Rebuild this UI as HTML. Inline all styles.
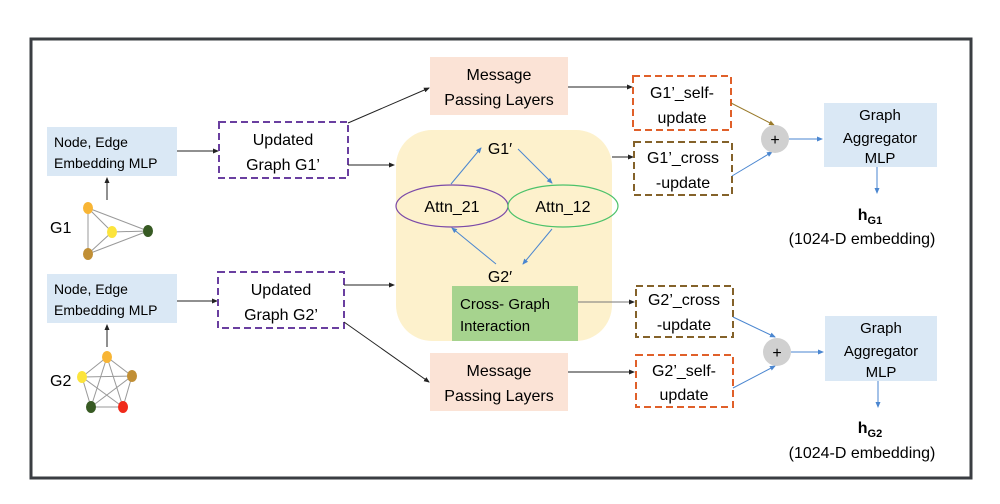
<!DOCTYPE html>
<html><head><meta charset="utf-8"><style>
body{margin:0;background:#fff;}
svg{display:block;font-family:"Liberation Sans",sans-serif;}
</style></head><body>
<svg width="1000" height="504" viewBox="0 0 1000 504" xmlns="http://www.w3.org/2000/svg">
<defs>
<marker id="ak" markerWidth="6" markerHeight="6" refX="5" refY="3" orient="auto"><path d="M0,0.5L6,3L0,5.5Z" fill="#222"/></marker>
<marker id="ab" markerWidth="6" markerHeight="6" refX="5" refY="3" orient="auto"><path d="M0,0.5L6,3L0,5.5Z" fill="#4a86d0"/></marker>
<marker id="ao" markerWidth="6" markerHeight="6" refX="5" refY="3" orient="auto"><path d="M0,0.5L6,3L0,5.5Z" fill="#9a7a2a"/></marker>
</defs>
<rect x="31" y="39" width="940" height="439" fill="#fff" stroke="#3a3d42" stroke-width="3"/>
<!-- left MLP boxes -->
<rect x="47" y="127" width="130" height="49" fill="#dae8f5"/>
<text x="54" y="147" font-size="14">Node, Edge</text>
<text x="54" y="168" font-size="14">Embedding MLP</text>
<rect x="47" y="274" width="130" height="49" fill="#dae8f5"/>
<text x="54" y="294" font-size="14">Node, Edge</text>
<text x="54" y="315" font-size="14">Embedding MLP</text>
<!-- G1 graph -->
<line x1="107" y1="200" x2="107" y2="178" stroke="#222" marker-end="url(#ak)"/>
<line x1="107" y1="347" x2="107" y2="325" stroke="#222" marker-end="url(#ak)"/>
<g stroke="#999" stroke-width="1">
<line x1="88" y1="208" x2="148" y2="231"/><line x1="88" y1="208" x2="88" y2="254"/><line x1="88" y1="208" x2="112" y2="232"/>
<line x1="112" y1="232" x2="148" y2="231"/><line x1="112" y1="232" x2="88" y2="254"/><line x1="88" y1="254" x2="148" y2="231"/>
<line x1="107" y1="357" x2="82" y2="377"/><line x1="107" y1="357" x2="132" y2="376"/><line x1="107" y1="357" x2="91" y2="407"/><line x1="107" y1="357" x2="123" y2="407"/>
<line x1="82" y1="377" x2="132" y2="376"/><line x1="82" y1="377" x2="91" y2="407"/><line x1="82" y1="377" x2="123" y2="407"/>
<line x1="132" y1="376" x2="91" y2="407"/><line x1="132" y1="376" x2="123" y2="407"/><line x1="91" y1="407" x2="123" y2="407"/>
</g>
<ellipse cx="88" cy="208" rx="5" ry="6" fill="#f8b535"/><ellipse cx="112" cy="232" rx="5" ry="6" fill="#fce43c"/>
<ellipse cx="148" cy="231" rx="5" ry="6" fill="#375a23"/><ellipse cx="88" cy="254" rx="5" ry="6" fill="#c18f35"/>
<ellipse cx="107" cy="357" rx="5" ry="6" fill="#f8b535"/><ellipse cx="82" cy="377" rx="5" ry="6" fill="#fce43c"/>
<ellipse cx="132" cy="376" rx="5" ry="6" fill="#c18f35"/><ellipse cx="91" cy="407" rx="5" ry="6" fill="#375a23"/><ellipse cx="123" cy="407" rx="5" ry="6" fill="#f02a1a"/>
<text x="50" y="233" font-size="16">G1</text>
<text x="50" y="386" font-size="16">G2</text>
<!-- updated graph boxes -->
<line x1="177" y1="151" x2="218" y2="151" stroke="#222" marker-end="url(#ak)"/>
<line x1="177" y1="301" x2="217" y2="301" stroke="#222" marker-end="url(#ak)"/>
<rect x="219" y="122" width="129" height="56" fill="#fff" stroke="#6a3fa0" stroke-width="2" stroke-dasharray="7,4"/>
<text x="283" y="145" font-size="16" text-anchor="middle">Updated</text>
<text x="283" y="170" font-size="16" text-anchor="middle">Graph G1’</text>
<rect x="218" y="272" width="126" height="56" fill="#fff" stroke="#6a3fa0" stroke-width="2" stroke-dasharray="7,4"/>
<text x="281" y="295" font-size="16" text-anchor="middle">Updated</text>
<text x="281" y="320" font-size="16" text-anchor="middle">Graph G2’</text>
<!-- message passing -->
<line x1="348" y1="123" x2="429" y2="88" stroke="#222" marker-end="url(#ak)"/>
<line x1="344" y1="322" x2="429" y2="382" stroke="#222" marker-end="url(#ak)"/>
<rect x="430" y="57" width="138" height="58" fill="#fbe3d6"/>
<text x="499" y="80" font-size="16" text-anchor="middle">Message</text>
<text x="499" y="105" font-size="16" text-anchor="middle">Passing Layers</text>
<rect x="430" y="353" width="138" height="58" fill="#fbe3d6"/>
<text x="499" y="376" font-size="16" text-anchor="middle">Message</text>
<text x="499" y="401" font-size="16" text-anchor="middle">Passing Layers</text>
<!-- yellow box -->
<rect x="396" y="130" width="216" height="211" rx="36" fill="#fdf1cc"/>
<line x1="348" y1="165" x2="394" y2="165" stroke="#222" marker-end="url(#ak)"/>
<line x1="344" y1="285" x2="394" y2="285" stroke="#222" marker-end="url(#ak)"/>
<text x="500" y="154" font-size="16" text-anchor="middle">G1′</text>
<text x="500" y="282" font-size="16" text-anchor="middle">G2′</text>
<ellipse cx="452" cy="206" rx="56" ry="21" fill="none" stroke="#7b4aa8" stroke-width="1.2"/>
<ellipse cx="563" cy="206" rx="55" ry="21" fill="none" stroke="#4cc26a" stroke-width="1.2"/>
<text x="452" y="212" font-size="16" text-anchor="middle">Attn_21</text>
<text x="563" y="212" font-size="16" text-anchor="middle">Attn_12</text>
<g stroke="#4a86d0" fill="none">
<line x1="451" y1="184" x2="481" y2="148" marker-end="url(#ab)"/>
<line x1="518" y1="149" x2="552" y2="183" marker-end="url(#ab)"/>
<line x1="552" y1="229" x2="523" y2="264" marker-end="url(#ab)"/>
<line x1="496" y1="264" x2="452" y2="228" marker-end="url(#ab)"/>
</g>
<rect x="452" y="286" width="126" height="55" fill="#a6d38e"/>
<text x="460" y="309" font-size="15">Cross- Graph</text>
<text x="460" y="331" font-size="15">Interaction</text>
<!-- right dashed boxes -->
<line x1="568" y1="87" x2="632" y2="87" stroke="#222" marker-end="url(#ak)"/>
<line x1="612" y1="157" x2="633" y2="157" stroke="#222" marker-end="url(#ak)"/>
<line x1="578" y1="302" x2="634" y2="302" stroke="#777" marker-end="url(#ak)"/>
<line x1="568" y1="372" x2="634" y2="372" stroke="#222" marker-end="url(#ak)"/>
<rect x="633" y="76" width="98" height="54" fill="#fff" stroke="#e0602a" stroke-width="2" stroke-dasharray="7,4"/>
<text x="682" y="98" font-size="16" text-anchor="middle">G1’_self-</text>
<text x="682" y="123" font-size="16" text-anchor="middle">update</text>
<rect x="634" y="142" width="98" height="53" fill="#fff" stroke="#84622a" stroke-width="2" stroke-dasharray="7,4"/>
<text x="683" y="163" font-size="16" text-anchor="middle">G1’_cross</text>
<text x="683" y="188" font-size="16" text-anchor="middle">-update</text>
<rect x="636" y="286" width="97" height="51" fill="#fff" stroke="#84622a" stroke-width="2" stroke-dasharray="7,4"/>
<text x="684" y="305" font-size="16" text-anchor="middle">G2’_cross</text>
<text x="684" y="330" font-size="16" text-anchor="middle">-update</text>
<rect x="636" y="355" width="97" height="52" fill="#fff" stroke="#e0602a" stroke-width="2" stroke-dasharray="7,4"/>
<text x="684" y="376" font-size="16" text-anchor="middle">G2’_self-</text>
<text x="684" y="400" font-size="16" text-anchor="middle">update</text>
<!-- plus -->
<line x1="731" y1="103" x2="774" y2="125" stroke="#9a7a2a" marker-end="url(#ao)"/>
<line x1="732" y1="176" x2="772" y2="152" stroke="#4a86d0" marker-end="url(#ab)"/>
<ellipse cx="775" cy="139" rx="14" ry="14" fill="#d0d0d0"/>
<text x="775" y="145" font-size="16" text-anchor="middle">+</text>
<line x1="789" y1="139" x2="822" y2="139" stroke="#4a86d0" marker-end="url(#ab)"/>
<line x1="733" y1="317" x2="775" y2="337" stroke="#4a86d0" marker-end="url(#ab)"/>
<line x1="733" y1="388" x2="775" y2="366" stroke="#4a86d0" marker-end="url(#ab)"/>
<ellipse cx="777" cy="352" rx="14" ry="14" fill="#d0d0d0"/>
<text x="777" y="358" font-size="16" text-anchor="middle">+</text>
<line x1="791" y1="352" x2="823" y2="352" stroke="#4a86d0" marker-end="url(#ab)"/>
<!-- aggregators -->
<rect x="824" y="103" width="113" height="64" fill="#dae8f5"/>
<text x="880" y="120" font-size="15" text-anchor="middle">Graph</text>
<text x="880" y="143" font-size="15" text-anchor="middle">Aggregator</text>
<text x="880" y="163" font-size="15" text-anchor="middle">MLP</text>
<line x1="877" y1="167" x2="877" y2="193" stroke="#4a86d0" marker-end="url(#ab)"/>
<text x="870" y="220" font-size="16" font-weight="bold" text-anchor="middle">h<tspan font-size="11" dy="4">G1</tspan></text>
<text x="862" y="244" font-size="16" text-anchor="middle">(1024-D embedding)</text>
<rect x="825" y="316" width="112" height="65" fill="#dae8f5"/>
<text x="881" y="333" font-size="15" text-anchor="middle">Graph</text>
<text x="881" y="356" font-size="15" text-anchor="middle">Aggregator</text>
<text x="881" y="377" font-size="15" text-anchor="middle">MLP</text>
<line x1="878" y1="381" x2="878" y2="407" stroke="#4a86d0" marker-end="url(#ab)"/>
<text x="870" y="433" font-size="16" font-weight="bold" text-anchor="middle">h<tspan font-size="11" dy="4">G2</tspan></text>
<text x="862" y="458" font-size="16" text-anchor="middle">(1024-D embedding)</text>
</svg>
</body></html>
